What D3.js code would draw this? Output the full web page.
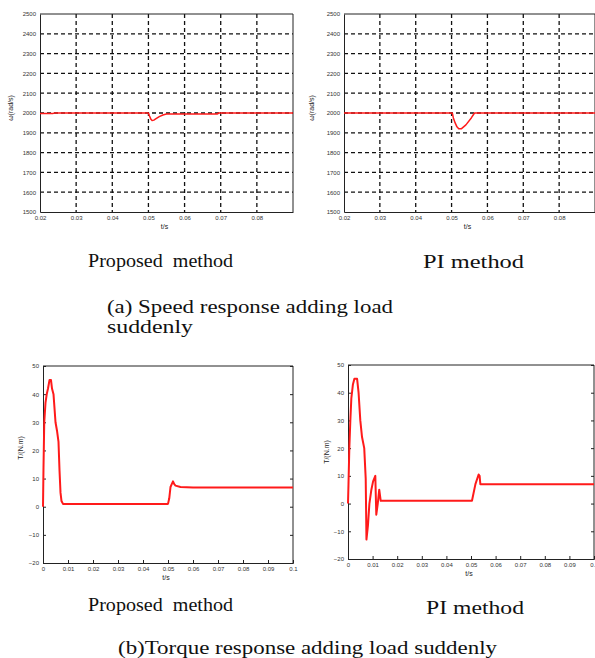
<!DOCTYPE html>
<html>
<head>
<meta charset="utf-8">
<style>
body { margin: 0; background: #fff; }
svg { display: block; }
.tick text { font-family: "Liberation Sans", Arial, sans-serif; font-size: 6px; fill: #333; }
.caption { font-family: "Liberation Serif", "Times New Roman", serif; font-size: 19px; fill: #111; }
.axlabel { font-family: "Liberation Sans", Arial, sans-serif; font-size: 7px; fill: #222; }
.grid line { stroke: #111; stroke-width: 1.3; stroke-dasharray: 4,3; }
</style>
<script src="https://d3js.org/d3.v7.min.js"></script>
</head>
<body>
<svg width="595" height="658"></svg>
<script>
// ---- data ----
var speedTicksX = [0.02, 0.03, 0.04, 0.05, 0.06, 0.07, 0.08];
var speedTicksY = [1500, 1600, 1700, 1800, 1900, 2000, 2100, 2200, 2300, 2400, 2500];

var speedPropT = [0.02, 0.0235, 0.024, 0.05, 0.0503, 0.0507, 0.051, 0.0515, 0.052, 0.053, 0.054, 0.055, 0.069, 0.0695, 0.09];
var speedPropV = [1997, 1997, 2000, 2000, 1985, 1968, 1962, 1964, 1970, 1982, 1990, 1995, 1995, 2000, 2000];

var speedPIT = [0.02, 0.0502, 0.0505, 0.051, 0.0515, 0.052, 0.0527, 0.054, 0.0555, 0.0564, 0.09];
var speedPIV = [2000, 2000, 1975, 1950, 1930, 1920, 1920, 1940, 1975, 2000, 2000];

var torqueTicksX = [0, 0.01, 0.02, 0.03, 0.04, 0.05, 0.06, 0.07, 0.08, 0.09, 0.1];
var torqueTicksY = [-20, -10, 0, 10, 20, 30, 40, 50];

var torquePropT = [0, 0.0002, 0.0005, 0.001, 0.0015, 0.002, 0.0026, 0.0032, 0.0036, 0.0042, 0.005, 0.0056, 0.0062, 0.0066, 0.007, 0.0074, 0.008, 0.009, 0.05, 0.0505, 0.051, 0.0515, 0.052, 0.0525, 0.053, 0.055, 0.06, 0.1];
var torquePropV = [0, 14, 30, 37, 40, 42, 45, 45, 42, 40, 30, 27, 23, 13, 5, 2, 1, 1, 1, 3, 7, 8, 9, 8, 7.5, 7, 6.8, 6.8];

var torquePIT = [0, 0.0002, 0.00054, 0.00095, 0.00136, 0.002, 0.0026, 0.0037, 0.0043, 0.005, 0.0057, 0.0066, 0.0072, 0.0075, 0.0081, 0.0087, 0.0095, 0.0102, 0.0111, 0.0115, 0.0121, 0.0127, 0.0133, 0.014, 0.0504, 0.0518, 0.0531, 0.0535, 0.0538, 0.1];
var torquePIV = [0, 7, 20, 30, 38, 43, 45, 45, 40, 30, 24, 20, 9, -13, -8, 0, 5, 8, 10, -4, 0, 5, 1, 1, 1, 7, 10.5, 10, 7, 7];

var svg = d3.select("svg");

function panel(o) {
  var g = svg.append("g");
  var x = d3.scaleLinear().domain(o.xDomain).range([o.left, o.right]);
  var y = d3.scaleLinear().domain(o.yDomain).range([o.bottom, o.top]);

  if (o.grid) {
    var grid = g.append("g").attr("class", "grid");
    grid.selectAll(".gv").data(o.xTicks.filter(function(d) { return d > o.xDomain[0]; }))
      .enter().append("line")
        .attr("x1", x).attr("x2", x)
        .attr("y1", o.top).attr("y2", o.bottom);
    grid.selectAll(".gh").data(o.yTicks.filter(function(d) { return d > o.yDomain[0] && d < o.yDomain[1]; }))
      .enter().append("line")
        .attr("x1", o.left).attr("x2", o.right)
        .attr("y1", y).attr("y2", y);
  }

  var inner = o.grid ? 0 : -3;

  g.append("g")
      .attr("transform", "translate(0," + o.bottom + ")")
      .call(d3.axisBottom(x).tickValues(o.xTicks).tickSize(inner).tickPadding(4)
        .tickFormat(function(d) { return d === 0 ? "0" : String(+d.toFixed(2)); }))
      .call(function(s) { s.select(".domain").attr("stroke", "#222"); s.selectAll(".tick line").attr("stroke", "#222"); });

  g.append("g")
      .attr("transform", "translate(" + o.left + ",0)")
      .call(d3.axisLeft(y).tickValues(o.yTicks).tickSize(inner).tickPadding(4).tickFormat(d3.format("d")))
      .call(function(s) { s.select(".domain").attr("stroke", "#222"); s.selectAll(".tick line").attr("stroke", "#222"); });

  if (!o.grid) {
    // inner ticks on right side
    g.append("g")
        .attr("transform", "translate(" + o.right + ",0)")
        .call(d3.axisRight(y).tickValues(o.yTicks).tickSize(inner).tickFormat(""))
        .call(function(s) { s.select(".domain").remove(); s.selectAll(".tick line").attr("stroke", "#222"); });
  }

  // frame top/right
  g.append("path")
      .attr("d", "M" + o.left + "," + o.top + "H" + o.right + "V" + o.bottom)
      .attr("fill", "none").attr("stroke", "#222");

  var line = d3.line()
      .x(function(d) { return x(d[0]); })
      .y(function(d) { return y(d[1]); });

  g.append("path")
      .datum(d3.zip(o.t, o.v))
      .attr("d", line)
      .attr("fill", "none")
      .attr("stroke", "#ff1a1a")
      .attr("stroke-width", o.lw)
      .attr("stroke-linejoin", "round");

  g.append("text")
      .attr("class", "axlabel")
      .attr("transform", "translate(" + o.ylx + "," + o.yly + ") rotate(-90)")
      .attr("text-anchor", "middle")
      .text(o.yLabel);

  g.append("text")
      .attr("class", "axlabel")
      .attr("x", (o.left + Math.min(o.right, 595)) / 2 - 2)
      .attr("y", o.bottom + 17)
      .attr("text-anchor", "middle")
      .text("t/s");
}

panel({left: 40, right: 293, top: 14, bottom: 212, xDomain: [0.02, 0.09], yDomain: [1500, 2500],
  xTicks: speedTicksX, yTicks: speedTicksY, grid: true, t: speedPropT, v: speedPropV, lw: 1.5,
  yLabel: "ω(rad/s)", ylx: 13, yly: 108});
panel({left: 344, right: 595, top: 14, bottom: 212, xDomain: [0.02, 0.09], yDomain: [1500, 2500],
  xTicks: speedTicksX, yTicks: speedTicksY, grid: true, t: speedPIT, v: speedPIV, lw: 1.5,
  yLabel: "ω(rad/s)", ylx: 314, yly: 108});
panel({left: 43, right: 293, top: 366, bottom: 563, xDomain: [0, 0.1], yDomain: [-20, 50],
  xTicks: torqueTicksX, yTicks: torqueTicksY, grid: false, t: torquePropT, v: torquePropV, lw: 2,
  yLabel: "T/(N.m)", ylx: 23, yly: 448});
panel({left: 348, right: 594, top: 365, bottom: 559, xDomain: [0, 0.1], yDomain: [-20, 50],
  xTicks: torqueTicksX, yTicks: torqueTicksY, grid: false, t: torquePIT, v: torquePIV, lw: 2,
  yLabel: "T/(N.m)", ylx: 329, yly: 452});

var captions = [
  {text: "Proposed  method", x: 88, y: 267, w: 145},
  {text: "PI method", x: 423, y: 268, w: 101},
  {text: "(a) Speed response adding load", x: 107, y: 313, w: 286},
  {text: "suddenly", x: 107, y: 333, w: 86},
  {text: "Proposed  method", x: 88, y: 611, w: 145},
  {text: "PI method", x: 426, y: 614, w: 98},
  {text: "(b)Torque response adding load suddenly", x: 118, y: 654, w: 379}
];
svg.selectAll(".caption").data(captions).enter().append("text")
    .attr("class", "caption")
    .attr("x", function(d) { return d.x; })
    .attr("y", function(d) { return d.y; })
    .attr("textLength", function(d) { return d.w; })
    .attr("lengthAdjust", "spacingAndGlyphs")
    .style("white-space", "pre")
    .text(function(d) { return d.text; });
</script>
</body>
</html>
